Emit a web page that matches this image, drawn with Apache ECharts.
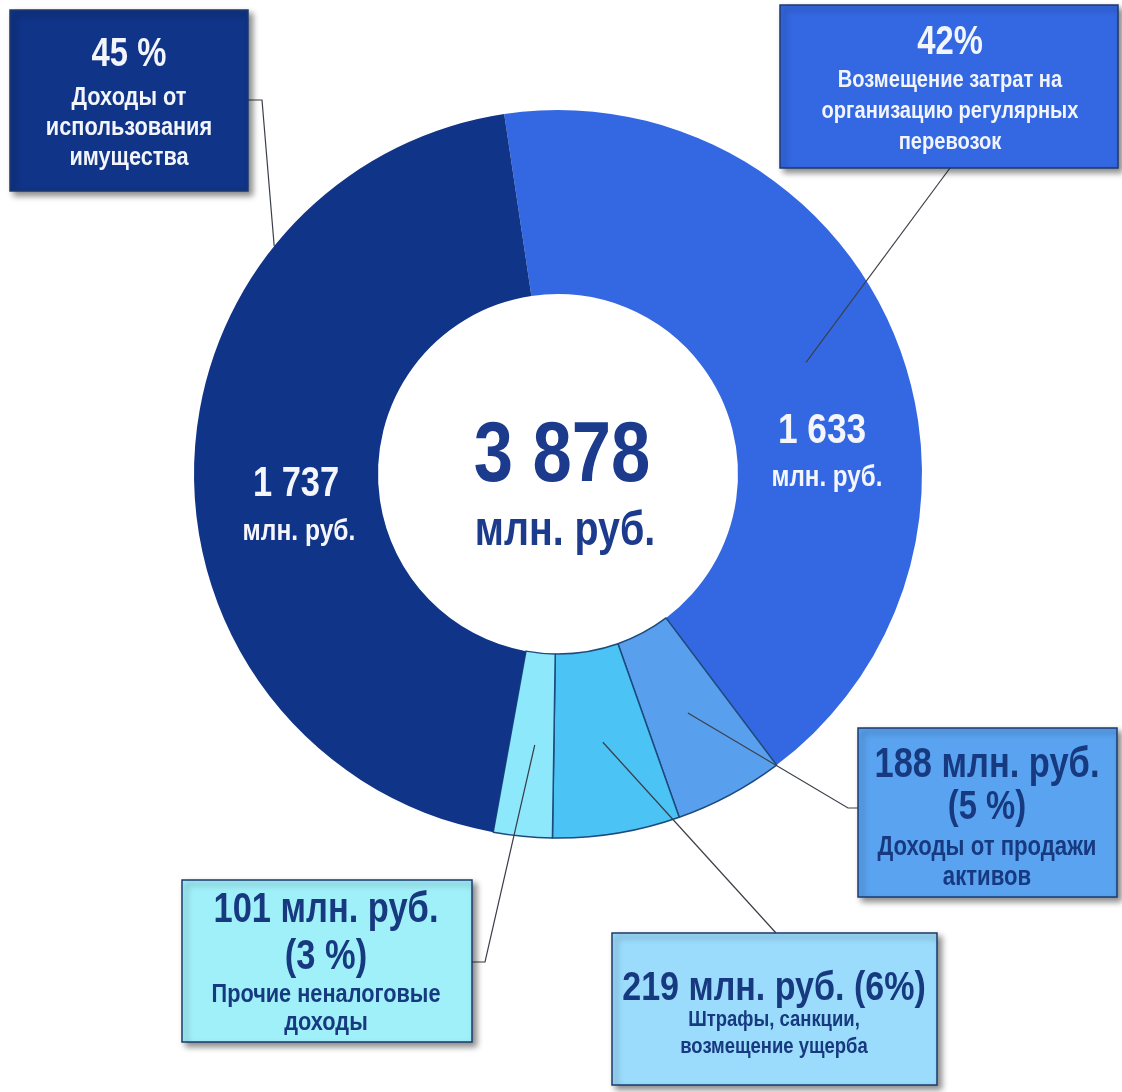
<!DOCTYPE html>
<html>
<head>
<meta charset="utf-8">
<script src="https://cdn.jsdelivr.net/npm/echarts@6/dist/echarts.min.js"></script>
<style>
html, body { margin: 0; padding: 0; background: #ffffff; }
#chart { width: 1122px; height: 1092px; }
</style>
</head>
<body>
<div id="chart"></div>
<script>
// ---- DATA ----
const categories = [
  'Возмещение затрат на организацию регулярных перевозок',
  'Доходы от продажи активов',
  'Штрафы, санкции, возмещение ущерба',
  'Прочие неналоговые доходы',
  'Доходы от использования имущества'
];
const values = [1633, 188, 219, 101, 1737];
const percentLabels = ['42%', '5 %', '6%', '3 %', '45 %'];
const categoryLines = [
  ['Возмещение затрат на', 'организацию регулярных', 'перевозок'],
  ['Доходы от продажи', 'активов'],
  ['Штрафы, санкции,', 'возмещение ущерба'],
  ['Прочие неналоговые', 'доходы'],
  ['Доходы от', 'использования', 'имущества']
];
const unitLabel = 'млн. руб.';

// ---- STYLE ----
const FONT = '"Liberation Sans", Arial, sans-serif';
const NARROW = 0.82;
const colors = ['#3468E2', '#58A0EE', '#4BC3F5', '#8CE8FA', '#103487'];
const NAVY_TEXT = '#17397F';
const LIGHT_TEXT = '#F2F5FB';

function fmt(n) { return String(n).replace(/\B(?=(\d{3})+(?!\d))/g, ' '); }
const total = values.reduce((a, b) => a + b, 0);

const chart = echarts.init(document.getElementById('chart'), null, { renderer: 'canvas' });
chart.setOption({
  animation: false,
  backgroundColor: '#ffffff',
  series: [{
    type: 'pie',
    center: [558, 474],
    radius: [180, 364],
    startAngle: 98.5,
    clockwise: true,
    silent: true,
    label: { show: false },
    labelLine: { show: false },
    data: values.map((v, i) => ({
      name: categories[i],
      value: v,
      itemStyle: {
        color: colors[i],
        borderColor: (i >= 1 && i <= 3) ? '#1E4A7E' : colors[i],
        borderWidth: (i >= 1 && i <= 3) ? 1.5 : 0
      }
    }))
  }]
});

// ---- ANNOTATIONS (boxes, leader lines, inner labels) ----
const boxes = [
  { idx: 4, rect: [10, 10, 238, 181], fill: '#103487', color: LIGHT_TEXT, tx: 129,
    head: [{ text: percentLabels[4], y: 55, fs: 40 }],
    body: { y0: 98, dy: 30, fs: 26.5 },
    from: [248, 100], elbow: [262, 100], anchor: { t: 0.735, rf: 1.0 } },
  { idx: 0, rect: [780, 5, 338, 163], fill: '#3468E2', color: LIGHT_TEXT, tx: 950,
    head: [{ text: percentLabels[0], y: 43, fs: 40 }],
    body: { y0: 80, dy: 31, fs: 24.5 },
    from: [950, 168], elbow: null, anchor: { t: 0.49, rf: 0.5 } },
  { idx: 1, rect: [858, 728, 259, 169], fill: '#5AA3F0', color: NAVY_TEXT, tx: 987,
    head: [{ text: fmt(values[1]) + ' ' + unitLabel, y: 765, fs: 42 },
           { text: '(' + percentLabels[1] + ')', y: 808, fs: 40 }],
    body: { y0: 848, dy: 30, fs: 27 },
    from: [858, 808], elbow: [848, 808], anchor: { t: 0.48, rf: 0.5 } },
  { idx: 2, rect: [612, 933, 325, 152], fill: '#9BDCFC', color: NAVY_TEXT, tx: 774,
    head: [{ text: fmt(values[2]) + ' ' + unitLabel + ' (' + percentLabels[2] + ')', y: 989, fs: 41.5 }],
    body: { y0: 1020, dy: 27, fs: 22.5 },
    from: [776, 933], elbow: null, anchor: { t: 0.49, rf: 0.5 } },
  { idx: 3, rect: [182, 880, 290, 162], fill: '#A0F0FA', color: NAVY_TEXT, tx: 326,
    head: [{ text: fmt(values[3]) + ' ' + unitLabel, y: 910, fs: 42 },
           { text: '(' + percentLabels[3] + ')', y: 957, fs: 42 }],
    body: { y0: 995, dy: 28, fs: 26.5 },
    from: [472, 962], elbow: [485, 962], anchor: { t: 0.43, rf: 0.5 } }
];

const innerLabels = [
  { idx: 4, num: [296, 484, 42], unit: [299, 532, 30] },
  { idx: 0, num: [822, 431, 43], unit: [827, 478, 29.5] }
];

function txt(text, x, y, fs, fill, z) {
  return {
    type: 'text', z: z || 20, silent: true,
    x: x, y: y, scaleX: NARROW, scaleY: 1,
    style: {
      text: text, x: 0, y: 0,
      font: 'bold ' + fs + 'px ' + FONT,
      fill: fill,
      align: 'center', verticalAlign: 'middle',
      textAlign: 'center', textVerticalAlign: 'middle'
    }
  };
}

const seriesData = chart.getModel().getSeriesByIndex(0).getData();
const graphics = [];

boxes.forEach(b => {
  const L = seriesData.getItemLayout(b.idx);
  const a = L.startAngle + b.anchor.t * (L.endAngle - L.startAngle);
  const rr = L.r0 + b.anchor.rf * (L.r - L.r0);
  const ax = L.cx + rr * Math.cos(a);
  const ay = L.cy + rr * Math.sin(a);
  const pts = [b.from];
  if (b.elbow) pts.push(b.elbow);
  pts.push([ax, ay]);
  graphics.push({
    type: 'polyline', z: 15, silent: true,
    shape: { points: pts },
    style: { stroke: '#3a3f4a', lineWidth: 1.2, fill: null }
  });
  graphics.push({
    type: 'rect', z: 18, silent: true,
    shape: { x: b.rect[0], y: b.rect[1], width: b.rect[2], height: b.rect[3] },
    style: {
      fill: b.fill, stroke: '#1d3a6e', lineWidth: 1.5,
      shadowBlur: 6, shadowOffsetX: 4, shadowOffsetY: 4, shadowColor: 'rgba(0,0,0,0.45)'
    }
  });
  b.head.forEach(h => graphics.push(txt(h.text, b.tx, h.y, h.fs, b.color)));
  categoryLines[b.idx].forEach((line, k) =>
    graphics.push(txt(line, b.tx, b.body.y0 + k * b.body.dy, b.body.fs, b.color)));
});

innerLabels.forEach(l => {
  graphics.push(txt(fmt(values[l.idx]), l.num[0], l.num[1], l.num[2], '#F4F6FB'));
  graphics.push(txt(unitLabel, l.unit[0], l.unit[1], l.unit[2], '#F4F6FB'));
});

graphics.push(txt(fmt(total), 562, 457, 86, '#1C3B8C'));
graphics.push(txt(unitLabel, 565, 532, 48, '#1C3B8C'));

chart.setOption({ graphic: graphics });
</script>
</body>
</html>
